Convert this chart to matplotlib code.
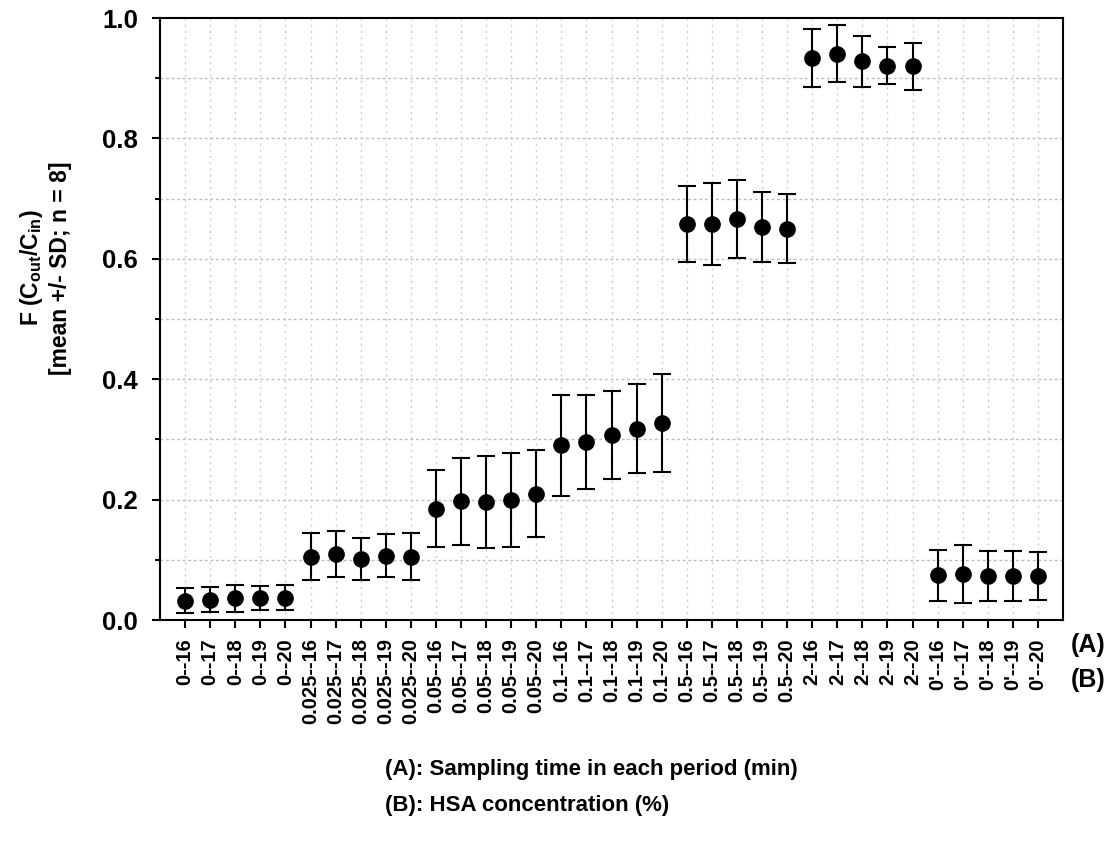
import numpy as np
import matplotlib
matplotlib.use('Agg')
from matplotlib import pyplot as plt

plt.rcParams['font.family'] = ['Liberation Sans', 'DejaVu Sans']
plt.rcParams['font.weight'] = 'bold'
plt.rcParams['mathtext.fontset'] = 'custom'
plt.rcParams['mathtext.rm'] = 'Liberation Sans:bold'
plt.rcParams['mathtext.it'] = 'Liberation Sans:bold'
plt.rcParams['mathtext.bf'] = 'Liberation Sans:bold'
plt.rcParams['mathtext.default'] = 'rm'

# data
conc = ['0', '0.025', '0.05', '0.1', '0.5', '2', "0'"]
times = ['16', '17', '18', '19', '20']
labels = [c + '--' + t for c in conc for t in times]

means = [0.032, 0.034, 0.036, 0.036, 0.037,
         0.105, 0.110, 0.102, 0.107, 0.105,
         0.185, 0.197, 0.196, 0.199, 0.210,
         0.290, 0.296, 0.308, 0.318, 0.327,
         0.658, 0.658, 0.666, 0.653, 0.650,
         0.934, 0.941, 0.928, 0.921, 0.920,
         0.074, 0.077, 0.073, 0.073, 0.073]
sds = [0.021, 0.021, 0.022, 0.020, 0.021,
       0.039, 0.038, 0.035, 0.036, 0.039,
       0.064, 0.072, 0.077, 0.078, 0.072,
       0.084, 0.078, 0.073, 0.074, 0.081,
       0.063, 0.068, 0.065, 0.058, 0.057,
       0.048, 0.047, 0.042, 0.031, 0.039,
       0.043, 0.048, 0.042, 0.041, 0.040]

x = np.arange(len(labels))

fig = plt.figure(figsize=(11.05, 8.55), dpi=100)
ax = fig.add_axes([160/1105, 1 - 620/855, (1063-160)/1105, (620-18)/855])

ax.errorbar(x, means, yerr=sds, fmt='o', color='black', markersize=11,
            elinewidth=1.5, capsize=6.5, capthick=1.5, zorder=3)

ax.set_xlim(-1, 35)
ax.set_ylim(0, 1.0)
ax.set_xticks(x)
ax.set_xticklabels(labels, rotation=90, fontsize=14.5, fontweight='bold')
ax.set_yticks(np.arange(0, 1.01, 0.2))
ax.set_yticklabels(['0.0', '0.2', '0.4', '0.6', '0.8', '1.0'], fontsize=18.5, fontweight='bold')
ax.set_yticks(np.arange(0.1, 1.0, 0.2), minor=True)
ax.tick_params(axis='y', which='major', length=6, width=1.5, pad=10)
ax.tick_params(axis='y', which='minor', length=3.5, width=1.5)
ax.tick_params(axis='x', length=6, width=1.5, pad=7)

for yv in np.arange(0.1, 1.0, 0.1):
    ax.axhline(yv, color='#bbbbbb', linestyle=(0, (2, 2)), linewidth=1, zorder=0)
for xv in x:
    ax.axvline(xv, color='#cccccc', linestyle=(0, (1.5, 3)), linewidth=1, zorder=0)

for s in ax.spines.values():
    s.set_linewidth(1.5)

fig.text(45/1105, 1 - 268/855, 'F (C$_{out}$/C$_{in}$)\n[mean +/- SD; n = 8]',
         fontsize=16.5, fontweight='bold', rotation=90, ha='center', va='center',
         multialignment='center')

fig.text(1071/1105, 1 - 645/855, '(A)', fontsize=18, fontweight='bold', va='center', ha='left')
fig.text(1071/1105, 1 - 680/855, '(B)', fontsize=18, fontweight='bold', va='center', ha='left')
fig.text(385/1105, 1 - 770/855, '(A): Sampling time in each period (min)', fontsize=16,
         fontweight='bold', va='center', ha='left')
fig.text(385/1105, 1 - 805/855, '(B): HSA concentration (%)', fontsize=16,
         fontweight='bold', va='center', ha='left')

fig.savefig('out.png', dpi=100)
